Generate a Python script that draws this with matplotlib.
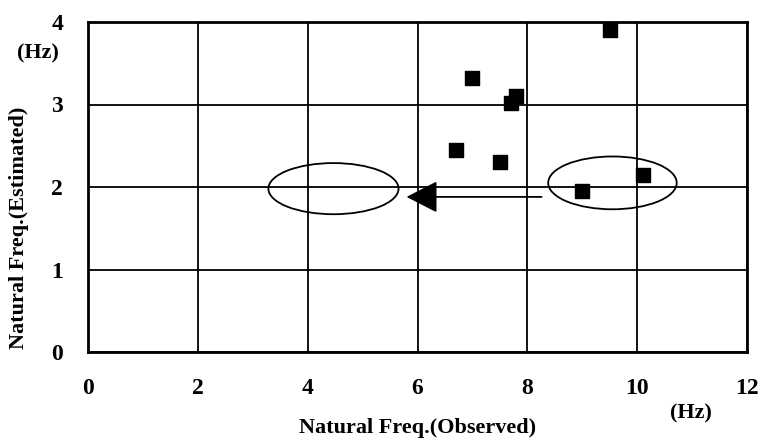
import matplotlib.pyplot as plt
from matplotlib.patches import Ellipse

# Data
observed = [9.5, 7.0, 7.8, 7.7, 6.7, 7.5, 9.0, 10.1]
estimated = [3.9, 3.32, 3.1, 3.02, 2.45, 2.3, 1.95, 2.14]
x_ticks = [0, 2, 4, 6, 8, 10, 12]
y_ticks = [0, 1, 2, 3, 4]

# ellipse (center x, center y, width, height)
ellipse_right = (9.55, 2.05, 2.34, 0.64)
ellipse_left = (4.47, 1.98, 2.37, 0.62)
arrow_start = (8.26, 1.88)
arrow_end = (5.8, 1.88)

plt.rcParams['font.family'] = ['Liberation Serif', 'DejaVu Serif']
plt.rcParams['font.weight'] = 'bold'

fig = plt.figure(figsize=(7.6, 4.43), dpi=100)
ax = fig.add_axes([88 / 760, 1 - 352 / 443, (747 - 88) / 760, (352 - 22) / 443])

ax.scatter(observed, estimated, marker='s', s=95, color='black', zorder=3)

for cx, cy, w, h in (ellipse_right, ellipse_left):
    ax.add_patch(Ellipse((cx, cy), w, h, fill=False, edgecolor='black', lw=1.3, zorder=3))

ax.annotate('', xy=arrow_end, xytext=arrow_start,
            arrowprops=dict(arrowstyle='-|>,head_length=1.95,head_width=1.0',
                            color='black', lw=1.3, shrinkA=0, shrinkB=0))

ax.set_xlim(0, 12)
ax.set_ylim(0, 4)
ax.set_xticks(x_ticks)
ax.set_yticks(y_ticks)
ax.tick_params(length=0, labelsize=17)
ax.tick_params(axis='x', pad=19)
ax.tick_params(axis='y', pad=18)
ax.grid(True, color='black', lw=1.3)
ax.set_axisbelow(True)
for s in ax.spines.values():
    s.set_linewidth(2)

fig.text(418 / 760, 1 - 428 / 443, 'Natural Freq.(Observed)', ha='center', va='center', fontsize=16)
fig.text(691 / 760, 1 - 413 / 443, '(Hz)', ha='center', va='center', fontsize=16)
fig.text(19 / 760, 1 - 228 / 443, 'Natural Freq.(Estimated)', ha='center', va='center',
         rotation=90, fontsize=16)
fig.text(38 / 760, 1 - 53 / 443, '(Hz)', ha='center', va='center', fontsize=16)

fig.savefig('out.png', dpi=100)
